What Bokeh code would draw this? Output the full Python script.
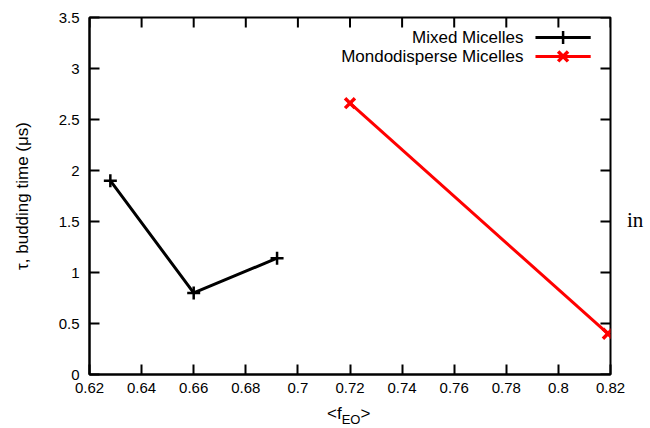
from bokeh.plotting import figure
from bokeh.models import FixedTicker, Label, Range1d, Div
from bokeh.layouts import column, row
from bokeh.embed import file_html
from bokeh.resources import INLINE

# ---- data ----
mixed_x = [0.628, 0.660, 0.692]
mixed_y = [1.90, 0.80, 1.14]
mono_x = [0.720, 0.819]
mono_y = [2.66, 0.40]
series_names = ["Mixed Micelles", "Mondodisperse Micelles"]
x_ticks = [0.62, 0.64, 0.66, 0.68, 0.70, 0.72, 0.74, 0.76, 0.78, 0.80, 0.82]
y_ticks = [0, 0.5, 1, 1.5, 2, 2.5, 3, 3.5]
y_label = "τ, budding time (μs)"
x_label_main, x_label_sub = "f", "EO"
side_text = "in"

FONT = "Liberation Sans"
PW, PH = 627, 402
X0, X1, Y0, Y1 = 0.62, 0.82, 0.0, 3.5

p = figure(width=PW, height=PH, output_backend="svg", toolbar_location=None,
           x_range=Range1d(X0, X1), y_range=Range1d(Y0, Y1),
           min_border_left=89, min_border_right=17, min_border_top=17,
           min_border_bottom=28)
p.grid.visible = False
p.outline_line_color = "black"
p.outline_line_width = 2
p.background_fill_color = "white"
p.border_fill_color = "white"

def fmt(v):
    return "{:g}".format(v)

for ax in p.xaxis:
    ax.ticker = FixedTicker(ticks=x_ticks)
    ax.major_label_overrides = {t: fmt(t) for t in x_ticks}
    ax.major_label_standoff = 8
for ax in p.yaxis:
    ax.ticker = FixedTicker(ticks=y_ticks)
    ax.major_label_overrides = {t: fmt(t) for t in y_ticks}
    ax.major_label_standoff = 10
    ax.axis_label = y_label
    ax.axis_label_text_font = FONT
    ax.axis_label_text_font_style = "normal"
    ax.axis_label_text_font_size = "17px"
    ax.axis_label_text_color = "black"
    ax.axis_label_standoff = 24

for ax in p.xaxis + p.yaxis:
    ax.major_tick_in = 10
    ax.major_tick_out = 0
    ax.minor_tick_in = 0
    ax.minor_tick_out = 0
    ax.major_tick_line_width = 2
    ax.axis_line_width = 2
    ax.major_label_text_font = FONT
    ax.major_label_text_font_size = "15px"
    ax.major_label_text_color = "black"

# mirrored inward ticks on top and right (lengths as fractions of the frame)
tx = 0.0192 * (X1 - X0)
ty = 0.028 * (Y1 - Y0)
p.segment(x0=x_ticks, y0=[Y1] * len(x_ticks), x1=x_ticks, y1=[Y1 - ty] * len(x_ticks),
          line_color="black", line_width=2)
p.segment(x0=[X1] * len(y_ticks), y0=y_ticks, x1=[X1 - tx] * len(y_ticks), y1=y_ticks,
          line_color="black", line_width=2)

# data
p.line(mixed_x, mixed_y, line_color="black", line_width=3)
p.scatter(mixed_x, mixed_y, marker="cross", size=13, line_color="black", line_width=2.5)
p.line(mono_x, mono_y, line_color="#ff0000", line_width=3)
p.scatter(mono_x, mono_y, marker="x", size=14, line_color="#ff0000", line_width=3.5)

# legend (key drawn at positions relative to axis ranges)
def fx(f):
    return X0 + f * (X1 - X0)
def fy(f):
    return Y0 + f * (Y1 - Y0)

k0, k1, km = fx(0.856), fx(0.962), fx(0.909)
ky1, ky2 = fy(0.944), fy(0.891)
p.line([k0, k1], [ky1, ky1], line_color="black", line_width=3)
p.scatter([km], [ky1], marker="cross", size=13, line_color="black", line_width=2.5)
p.line([k0, k1], [ky2, ky2], line_color="#ff0000", line_width=3)
p.scatter([km], [ky2], marker="x", size=14, line_color="#ff0000", line_width=3.5)

for name, ys in zip(series_names, [337, 318]):
    p.add_layout(Label(x=434, y=ys, x_units="screen", y_units="screen", text=name,
                       text_align="right", text_baseline="middle",
                       text_font=FONT, text_font_size="17px", text_color="black"))

# stray text at the right of the chart
div_in = Div(
    text=('<div style="padding-top:208px; padding-left:0px; '
          'font-family:\'Liberation Serif\'; font-size:21px; line-height:24px; color:black;">'
          + side_text + '</div>'),
    width=23, height=PH, margin=0)

# x axis label <f_EO>
div_x = Div(
    text=('<div style="padding-left:327px; padding-top:2px; font-family:\'Liberation Sans\'; '
          'font-size:17px; line-height:20px; color:black; white-space:nowrap;">&lt;'
          + x_label_main + '<sub style="font-size:13px; line-height:0; vertical-align:-5px;">'
          + x_label_sub + '</sub>&gt;</div>'),
    width=650, height=26, margin=0)

layout = column(row(p, div_in, spacing=0), div_x, spacing=0)

open("out.html", "w").write(file_html(layout, INLINE))
